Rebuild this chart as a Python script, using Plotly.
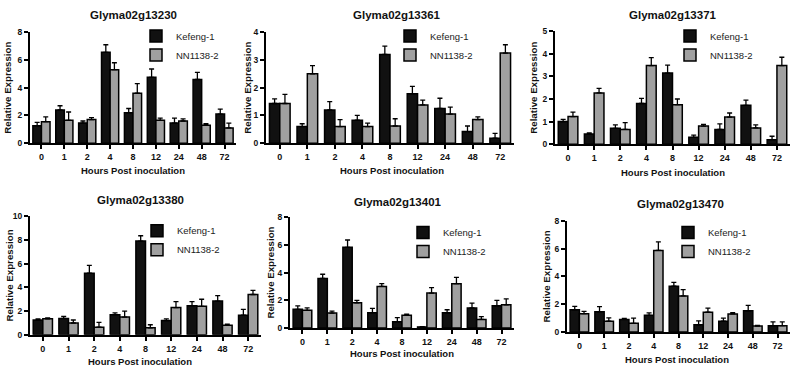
import plotly.graph_objects as go

W, H = 797, 371

hours = ["0", "1", "2", "4", "8", "12", "24", "48", "72"]
series_names = ["Kefeng-1", "NN1138-2"]
genes = ["Glyma02g13230", "Glyma02g13361", "Glyma02g13371",
         "Glyma02g13380", "Glyma02g13401", "Glyma02g13470"]

kef_13230 = [1.25, 2.4, 1.45, 6.55, 2.2, 4.75, 1.45, 4.6, 2.1]
kef_13230_err = [0.25, 0.3, 0.15, 0.55, 0.3, 0.6, 0.35, 0.5, 0.35]
nn_13230 = [1.55, 1.65, 1.7, 5.3, 3.6, 1.65, 1.6, 1.3, 1.1]
nn_13230_err = [0.35, 0.6, 0.15, 0.5, 0.7, 0.15, 0.15, 0.1, 0.35]

kef_13361 = [1.43, 0.6, 1.2, 0.83, 3.2, 1.78, 1.25, 0.42, 0.18]
kef_13361_err = [0.17, 0.1, 0.3, 0.17, 0.3, 0.27, 0.37, 0.2, 0.17]
nn_13361 = [1.43, 2.5, 0.6, 0.6, 0.62, 1.38, 1.05, 0.85, 3.25]
nn_13361_err = [0.33, 0.3, 0.25, 0.12, 0.26, 0.17, 0.25, 0.1, 0.3]

kef_13371 = [1.0, 0.45, 0.7, 1.8, 3.15, 0.3, 0.65, 1.72, 0.2]
kef_13371_err = [0.1, 0.05, 0.15, 0.23, 0.35, 0.1, 0.25, 0.23, 0.15]
nn_13371 = [1.22, 2.27, 0.65, 3.48, 1.75, 0.8, 1.2, 0.72, 3.48]
nn_13371_err = [0.2, 0.2, 0.3, 0.35, 0.25, 0.08, 0.18, 0.13, 0.37]

kef_13380 = [1.25, 1.38, 5.2, 1.7, 7.9, 1.2, 2.45, 2.85, 1.65]
kef_13380_err = [0.1, 0.17, 0.65, 0.15, 0.45, 0.15, 0.35, 0.45, 0.5]
nn_13380 = [1.35, 1.0, 0.65, 1.5, 0.6, 2.3, 2.4, 0.8, 3.4]
nn_13380_err = [0.07, 0.25, 0.4, 0.5, 0.25, 0.5, 0.6, 0.1, 0.35]

kef_13401 = [1.35, 3.58, 5.82, 1.1, 0.45, 0.08, 1.1, 1.45, 1.6]
kef_13401_err = [0.25, 0.3, 0.53, 0.32, 0.3, 0.02, 0.22, 0.35, 0.4]
nn_13401 = [1.28, 1.08, 1.82, 3.0, 0.92, 2.52, 3.2, 0.62, 1.68]
nn_13401_err = [0.17, 0.14, 0.18, 0.2, 0.08, 0.4, 0.45, 0.2, 0.42]

kef_13470 = [1.6, 1.45, 0.9, 1.2, 3.3, 0.52, 0.78, 1.52, 0.45]
kef_13470_err = [0.25, 0.37, 0.08, 0.18, 0.28, 0.28, 0.22, 0.4, 0.27]
nn_13470 = [1.32, 0.78, 0.62, 5.88, 2.6, 1.42, 1.3, 0.42, 0.45]
nn_13470_err = [0.16, 0.24, 0.38, 0.62, 0.45, 0.3, 0.1, 0.06, 0.27]

y_max = [8, 4, 5, 10, 8, 8]
y_dtick = [2, 1, 1, 2, 2, 2]

panel_data = [
    (kef_13230, kef_13230_err, nn_13230, nn_13230_err),
    (kef_13361, kef_13361_err, nn_13361, nn_13361_err),
    (kef_13371, kef_13371_err, nn_13371, nn_13371_err),
    (kef_13380, kef_13380_err, nn_13380, nn_13380_err),
    (kef_13401, kef_13401_err, nn_13401, nn_13401_err),
    (kef_13470, kef_13470_err, nn_13470, nn_13470_err),
]

# layout geometry in pixels: (x0, x1, ytop, ybottom)
boxes = [
    (30, 236, 28, 142),
    (266, 514, 28, 142),
    (555, 790, 27, 143),
    (30, 261, 217, 339),
    (290, 514, 218, 332),
    (567, 790, 222, 336),
]
title_pos = [(133, 10), (397, 10), (673, 10), (140, 200), (398, 202), (680, 204)]
xtitle_pos = [(133, 170), (392, 170), (673, 172), (140, 366), (402, 358), (677, 364)]
ytitle_x = [8, 248, 534, 10, 271, 546]
legend_pos = [(136, 17), (390, 17), (670, 17), (137, 217), (403, 219), (668, 219)]

FONT = "Liberation Sans, Arial, sans-serif"
colors = ["#111111", "#a0a0a0"]

def px(x):
    return x / W

def py(y):
    return 1 - y / H

fig = go.Figure()
layout = dict(
    width=W, height=H, margin=dict(l=0, r=0, t=0, b=0),
    paper_bgcolor="white", plot_bgcolor="white",
    barmode="group", bargap=0.25, bargroupgap=0.0,
    font=dict(family=FONT, color="#111"),
    annotations=[], showlegend=True,
)

for i, (kv, ke, nv, ne) in enumerate(panel_data):
    n = "" if i == 0 else str(i + 1)
    xa, ya = "x" + n, "y" + n
    leg = "legend" + n
    for j, (vals, errs) in enumerate([(kv, ke), (nv, ne)]):
        fig.add_trace(go.Bar(
            x=hours, y=vals, name=series_names[j], xaxis=xa, yaxis=ya,
            legend=leg,
            marker=dict(color=colors[j], line=dict(color="#000", width=1.5)),
            error_y=dict(type="data", array=errs, symmetric=False,
                         arrayminus=[0] * len(errs), color="#000",
                         thickness=1.3, width=2.5),
        ))
    x0, x1, yt, yb = boxes[i]
    layout["xaxis" + n] = dict(
        domain=[px(x0), px(x1)], anchor=ya, type="category",
        showline=True, linecolor="#000", linewidth=2,
        ticks="outside", ticklen=4, tickwidth=1.5, tickcolor="#000",
        tickfont=dict(size=9, family=FONT, weight="bold", color="#111"),
        showgrid=False, zeroline=False,
    )
    layout["yaxis" + n] = dict(
        domain=[py(yb), py(yt)], anchor=xa, range=[0, y_max[i]],
        dtick=y_dtick[i], showline=True, linecolor="#000", linewidth=2,
        ticks="outside", ticklen=4, tickwidth=1.5, tickcolor="#000",
        tickfont=dict(size=8.5, family=FONT, weight="bold", color="#111"),
        showgrid=False, zeroline=False,
    )
    lx, ly = legend_pos[i]
    layout[leg] = dict(
        x=px(lx), y=py(ly), xanchor="left", yanchor="top",
        bgcolor="rgba(0,0,0,0)", font=dict(size=9.5, family=FONT, color="#222"),
        itemwidth=30, tracegroupgap=0,
    )
    tx, ty = title_pos[i]
    layout["annotations"].append(dict(
        text="<b>" + genes[i] + "</b>", x=px(tx), y=py(ty), xref="paper",
        yref="paper", showarrow=False, xanchor="center", yanchor="middle",
        font=dict(size=11.5, family=FONT, color="#111"),
    ))
    hx, hy = xtitle_pos[i]
    layout["annotations"].append(dict(
        text="<b>Hours Post inoculation</b>", x=px(hx), y=py(hy), xref="paper",
        yref="paper", showarrow=False, xanchor="center", yanchor="middle",
        font=dict(size=9.5, family=FONT, color="#111"),
    ))
    layout["annotations"].append(dict(
        text="<b>Relative Expression</b>", x=px(ytitle_x[i]),
        y=py((yt + yb) / 2), xref="paper", yref="paper", showarrow=False,
        xanchor="center", yanchor="middle", textangle=-90,
        font=dict(size=9.7, family=FONT, color="#111"),
    ))

fig.update_layout(**layout)
fig.write_html(
    "out.html",
    config={"displayModeBar": False},
    post_script="document.body.style.margin='0';document.body.style.overflow='hidden';",
)
